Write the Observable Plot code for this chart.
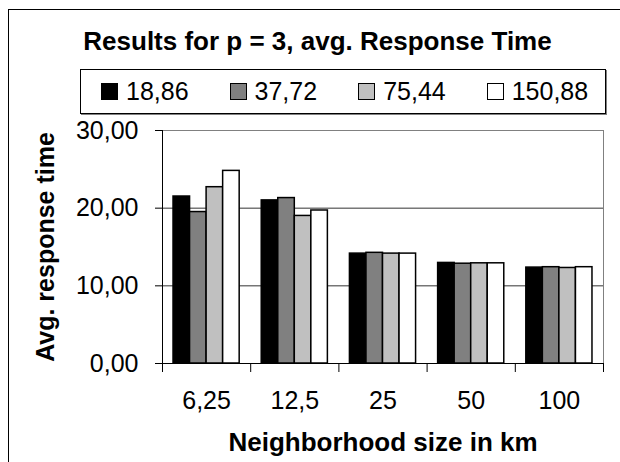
<!DOCTYPE html>
<html><head><meta charset="utf-8">
<script src="https://cdn.jsdelivr.net/npm/d3@7"></script>
<script src="https://cdn.jsdelivr.net/npm/@observablehq/plot@0.6"></script>
<style>
body{margin:0;background:#fff;}
#wrap{position:relative;width:620px;height:462px;overflow:hidden;background:#fff;font-family:"Liberation Sans",Arial,sans-serif;color:#000;}
#outer{position:absolute;left:8px;top:9px;width:640px;height:480px;border:1px solid #000;box-sizing:border-box;}
#title{position:absolute;left:17px;top:28px;width:601px;text-align:center;font-weight:bold;font-size:26px;line-height:26px;white-space:nowrap;}
#legend{position:absolute;left:80px;top:69px;width:526px;height:45px;border:1px solid #000;box-sizing:border-box;box-shadow:1px 1px 0 #808080;display:flex;align-items:center;padding-left:20px;gap:41px;font-size:25px;background:#fff;}
.item{display:flex;align-items:center;white-space:nowrap;}
.sw{width:17px;height:17px;border:1px solid #000;box-sizing:border-box;margin-right:8px;}
#chart{position:absolute;left:0;top:120px;}
</style></head><body>
<div id="wrap">
<div id="outer"></div>
<div id="title">Results for p = 3, avg. Response Time</div>
<div id="legend"></div>
<div id="chart"></div>
</div>
<script>
const categories = ["6,25", "12,5", "25", "50", "100"];
const seriesNames = ["18,86", "37,72", "75,44", "150,88"];
const values1886 = [21.5, 21.0, 14.15, 12.95, 12.35];
const values3772 = [19.5, 21.3, 14.25, 12.85, 12.4];
const values7544 = [22.7, 19.0, 14.15, 12.9, 12.3];
const values15088 = [24.8, 19.7, 14.15, 12.9, 12.4];
const seriesColors = ["#000000", "#808080", "#c0c0c0", "#ffffff"];
const yTicks = [0, 10, 20, 30];

const allSeries = [values1886, values3772, values7544, values15088];
const table = [];
categories.forEach((c, ci) => {
  seriesNames.forEach((s, si) => {
    table.push({cat: c, ci, series: s, si, value: allSeries[si][ci]});
  });
});

const groupInset = 0.125, barW = 0.1875;
const fmt = v => d3.format(".2f")(v).replace(".", ",");

const plot = Plot.plot({
  width: 620,
  height: 342,
  marginLeft: 162,
  marginRight: 17,
  marginTop: 10,
  marginBottom: 99,
  style: {fontFamily: '"Liberation Sans", Arial, sans-serif', fontSize: "25px", color: "#000", background: "transparent", overflow: "visible"},
  x: {domain: [0, categories.length], axis: null, label: null},
  y: {domain: [0, 30], axis: null, label: null},
  color: {domain: seriesNames, range: seriesColors},
  marks: [
    Plot.ruleY([10, 20], {stroke: "#333", strokeWidth: 1}),
    Plot.rectY(table, {
      x1: d => d.ci + groupInset + d.si * barW,
      x2: d => d.ci + groupInset + (d.si + 1) * barW,
      y: "value",
      fill: "series",
      stroke: "#000",
      strokeWidth: 1.5
    }),
    Plot.frame({stroke: "#808080"}),
    Plot.ruleY([0], {stroke: "#000"}),
    Plot.ruleX([0], {stroke: "#000"}),
    Plot.axisY({ticks: yTicks, label: null, tickSize: 7, tickPadding: 17, tickFormat: fmt, fontSize: 25, stroke: "#000", fill: "#000"}),
    Plot.axisX({ticks: d3.range(categories.length + 1), label: null, tickSize: 9, tickFormat: () => "", stroke: "#000"}),
    Plot.axisX({ticks: categories.map((c, i) => i + 0.5), label: null, tickSize: 0, tickPadding: 28, tickFormat: v => categories[Math.floor(v)], fontSize: 25, fill: "#000"}),
    Plot.text(["Neighborhood size in km"], {text: d => d, frameAnchor: "bottom", lineAnchor: "middle", textAnchor: "middle", dy: 79, fontWeight: "bold", fontSize: 26, fill: "#000"}),
    Plot.text(["Avg. response time"], {text: d => d, frameAnchor: "left", lineAnchor: "middle", textAnchor: "middle", rotate: -90, dx: -117, fontWeight: "bold", fontSize: 25, fill: "#000"})
  ]
});
document.getElementById("chart").appendChild(plot);

const color = plot.scale("color");
const legend = document.getElementById("legend");
color.domain.forEach((name, i) => {
  const item = document.createElement("div");
  item.className = "item";
  const sw = document.createElement("div");
  sw.className = "sw";
  sw.style.background = color.range[i];
  const label = document.createElement("span");
  label.textContent = name;
  item.appendChild(sw);
  item.appendChild(label);
  legend.appendChild(item);
});
</script>
</body></html>
